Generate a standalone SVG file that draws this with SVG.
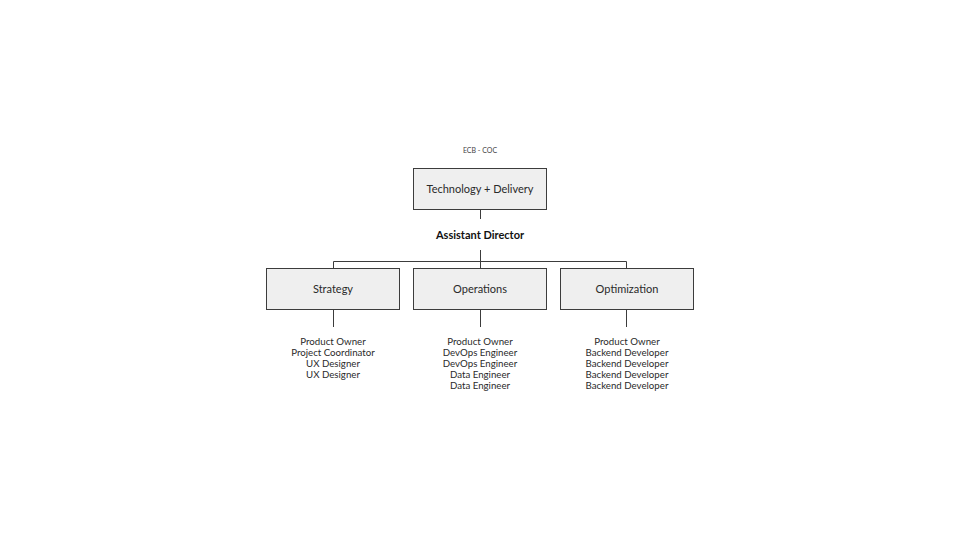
<svg xmlns="http://www.w3.org/2000/svg" width="960" height="540" viewBox="0 0 960 540">
<style>
.box{fill:#efefef;stroke:#3c3c3c;stroke-width:1}
.ln{stroke:#3c3c3c;stroke-width:1;fill:none}
text{font-family:Lato,"Open Sans","Liberation Sans",sans-serif;fill:#2a2a2a;text-anchor:middle}
.t{font-size:11px}
.s{font-size:9.7px}
</style>
<rect width="960" height="540" fill="#fff"/>
<text x="480" y="153" style="font-size:7px;fill:#444">ECB - COC</text>
<g id="connectors">
<path class="ln" d="M480.5 209V219M480.5 250V268M333.5 268V261.5H626.5V268M333.5 310V327M480.5 310V327M626.5 310V327"/>
</g>
<g id="top">
<rect class="box" x="413.5" y="168.5" width="133" height="41"/>
<text class="t" x="480" y="193">Technology + Delivery</text>
</g>
<g id="director">
<text x="480" y="239" style="font-size:11px;font-weight:bold;fill:#111">Assistant Director</text>
</g>
<g id="strategy">
<rect class="box" x="266.5" y="268.5" width="133" height="41"/>
<text class="t" x="333" y="293">Strategy</text>
<text class="s" x="333" y="345">Product Owner</text>
<text class="s" x="333" y="356">Project Coordinator</text>
<text class="s" x="333" y="367">UX Designer</text>
<text class="s" x="333" y="378">UX Designer</text>
</g>
<g id="operations">
<rect class="box" x="413.5" y="268.5" width="133" height="41"/>
<text class="t" x="480" y="293">Operations</text>
<text class="s" x="480" y="345">Product Owner</text>
<text class="s" x="480" y="356">DevOps Engineer</text>
<text class="s" x="480" y="367">DevOps Engineer</text>
<text class="s" x="480" y="378">Data Engineer</text>
<text class="s" x="480" y="389">Data Engineer</text>
</g>
<g id="optimization">
<rect class="box" x="560.5" y="268.5" width="133" height="41"/>
<text class="t" x="627" y="293">Optimization</text>
<text class="s" x="627" y="345">Product Owner</text>
<text class="s" x="627" y="356">Backend Developer</text>
<text class="s" x="627" y="367">Backend Developer</text>
<text class="s" x="627" y="378">Backend Developer</text>
<text class="s" x="627" y="389">Backend Developer</text>
</g>
</svg>
